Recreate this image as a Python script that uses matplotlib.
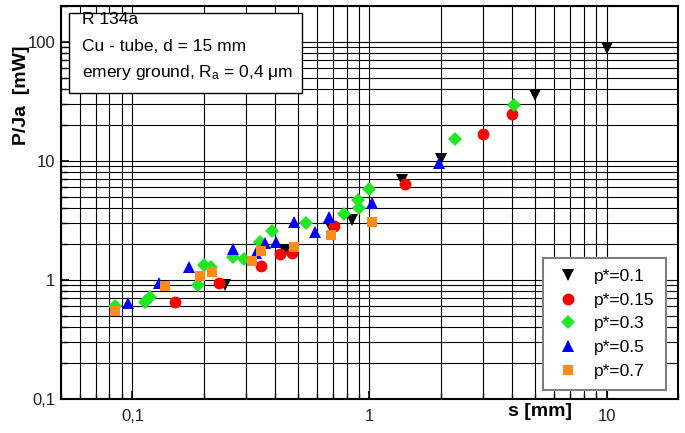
import matplotlib
matplotlib.use("Agg")
import matplotlib.pyplot as plt
from matplotlib.patches import Rectangle
from matplotlib.ticker import FixedLocator, LogLocator, NullFormatter, FixedFormatter

plt.rcParams['font.family'] = ['Liberation Sans', 'DejaVu Sans']
plt.rcParams['mathtext.fontset'] = 'custom'
plt.rcParams['mathtext.rm'] = 'Liberation Sans'
plt.rcParams['mathtext.it'] = 'Liberation Sans:italic'

# ---- data (s [mm], P/Ja [mW]) ----
s_01 = [0.245, 0.442, 0.690, 0.846, 1.374, 2.0, 4.99, 10.0]
p_01 = [0.908, 1.75, 2.73, 3.19, 6.92, 10.4, 35.9, 89.0]

s_015 = [0.151, 0.231, 0.350, 0.421, 0.473, 0.711, 1.415, 3.01, 3.99]
p_015 = [0.653, 0.943, 1.31, 1.65, 1.69, 2.84, 6.41, 16.9, 24.8]

s_03 = [0.0842, 0.1127, 0.1183, 0.189, 0.1997, 0.215, 0.265, 0.295, 0.344,
        0.387, 0.540, 0.778, 0.891, 0.900, 0.991, 2.29, 4.08]
p_03 = [0.604, 0.657, 0.724, 0.908, 1.34, 1.29, 1.55, 1.49, 2.10,
        2.58, 2.99, 3.57, 4.70, 4.00, 5.78, 15.2, 29.6]

s_05 = [0.0958, 0.1294, 0.174, 0.265, 0.333, 0.361, 0.404, 0.479, 0.591,
        0.673, 1.024, 1.96]
p_05 = [0.637, 0.949, 1.29, 1.82, 1.70, 2.03, 2.10, 3.05, 2.55,
        3.40, 4.41, 9.62]

s_07 = [0.0842, 0.1368, 0.1933, 0.216, 0.320, 0.349, 0.479, 0.688, 1.02]
p_07 = [0.552, 0.896, 1.07, 1.17, 1.45, 1.76, 1.90, 2.39, 3.07]

labels = ["p*=0.1", "p*=0.15", "p*=0.3", "p*=0.5", "p*=0.7"]
x_ticks = [0.1, 1, 10]
x_ticklabels = ["0,1", "1", "10"]
y_ticks = [0.1, 1, 10, 100]
y_ticklabels = ["0,1", "1", "10", "100"]

W, H = 685, 433
fig = plt.figure(figsize=(W / 100, H / 100), dpi=100)
ax = fig.add_axes([61 / W, 34 / H, 617 / W, 393 / H])
ax.set_xscale('log')
ax.set_yscale('log')
ax.set_xlim(0.05, 20)
ax.set_ylim(0.1, 200)

series = [
    (s_01, p_01, 'v', 'black', 9),
    (s_015, p_015, 'o', '#FF0000', 8.5),
    (s_03, p_03, 'D', '#22E622', 7.2),
    (s_05, p_05, '^', '#0000FF', 9),
    (s_07, p_07, 's', '#FF8C1A', 7.5),
]
for (sx, py, m, c, ms), lab in zip(series, labels):
    ax.plot(sx, py, linestyle='none', marker=m, color=c, markersize=ms,
            markeredgewidth=0, label=lab, zorder=3)

ax.xaxis.set_major_locator(FixedLocator(x_ticks))
ax.xaxis.set_major_formatter(FixedFormatter(x_ticklabels))
ax.yaxis.set_major_locator(FixedLocator(y_ticks))
ax.yaxis.set_major_formatter(FixedFormatter(y_ticklabels))
ax.xaxis.set_minor_locator(LogLocator(base=10, subs=range(2, 10), numticks=20))
ax.yaxis.set_minor_locator(LogLocator(base=10, subs=range(2, 10), numticks=20))
ax.xaxis.set_minor_formatter(NullFormatter())
ax.yaxis.set_minor_formatter(NullFormatter())

ax.grid(True, which='both', color='black', linewidth=0.8, zorder=1)
ax.set_axisbelow(True)
ax.tick_params(which='both', direction='in', top=False, right=False,
               labelsize=12, labelcolor='#222222', colors='black')
ax.tick_params(axis='y', which='major', length=6, width=1.2, pad=4)
ax.tick_params(axis='x', which='major', length=6, width=1.2, pad=7)
ax.tick_params(which='minor', length=4, width=1.0)
for sp in ax.spines.values():
    sp.set_linewidth(1.5)
    sp.set_color('black')

# axis labels
fig.text(22 / W, 1 - 95 / H, "P/Ja  [mW]", rotation=90, ha='center', va='center',
         fontsize=14, fontweight='bold')
fig.text(540 / W, 1 - 411 / H, "s [mm]", ha='center', va='center',
         fontsize=14, fontweight='bold')

# info box
bx0, by0, bx1, by1 = 69, 13, 302, 93
rect = Rectangle((bx0 / W, 1 - by1 / H), (bx1 - bx0) / W, (by1 - by0) / H,
                 transform=fig.transFigure, facecolor='white', edgecolor='black',
                 linewidth=1.0, zorder=5)
fig.patches.append(rect)
lines = ["R 134a", "Cu - tube, d = 15 mm", r"emery ground, R$_\mathrm{a}$ = 0,4 $\mathrm{\mu}$m"]
for i, t in enumerate(lines):
    fig.text(82 / W, 1 - (20 + 26.5 * i) / H, t, ha='left', va='center',
             fontsize=12.5, zorder=6)

leg = ax.legend(loc='lower right', bbox_to_anchor=(666 / W, 43 / H),
                bbox_transform=fig.transFigure, borderaxespad=0,
                fontsize=12.5, frameon=True, fancybox=False, numpoints=1,
                borderpad=0.65, handlelength=1.6, handletextpad=0.7,
                labelspacing=0.49)
fr = leg.get_frame()
fr.set_edgecolor('#7F7F7F')
fr.set_linewidth(1.5)
fr.set_alpha(1)
leg.set_zorder(10)

fig.savefig("out.png", dpi=100)
